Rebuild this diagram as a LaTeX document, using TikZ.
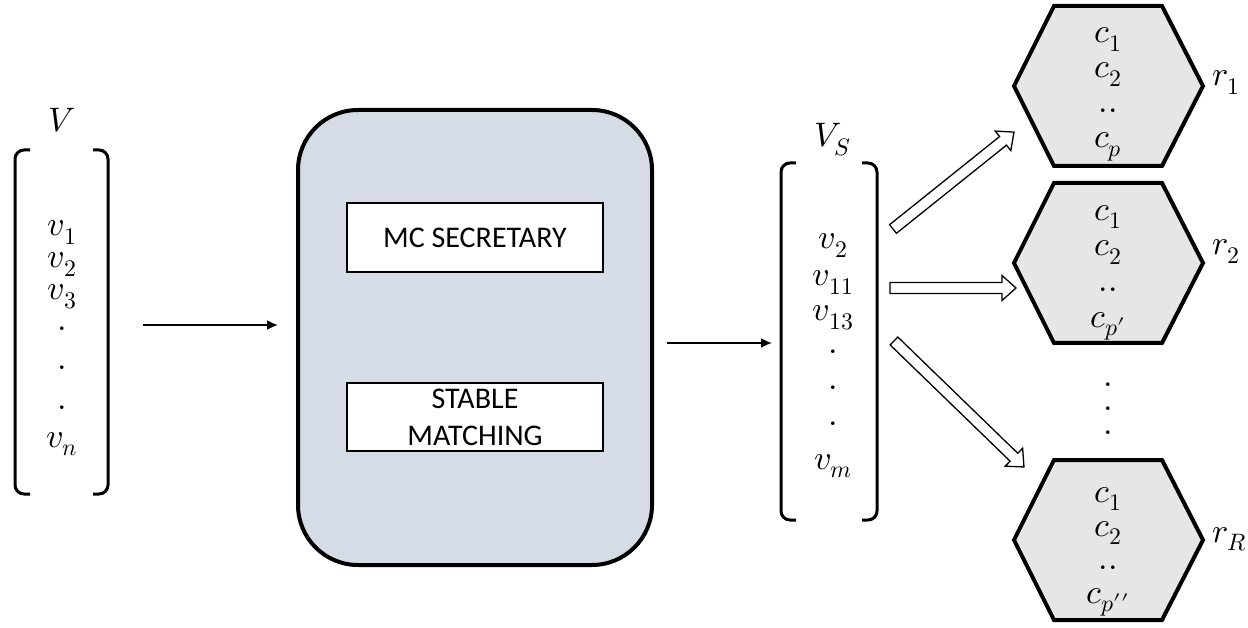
\documentclass[tikz,border=0pt]{standalone}
\usepackage{fontspec}
\usepackage{unicode-math}
\setmainfont{Carlito}
\setmathfont{Latin Modern Math}
\usetikzlibrary{arrows.meta,calc}
\definecolor{boxfill}{HTML}{D6DCE5}
\definecolor{hexfill}{HTML}{E7E6E6}
\begin{document}
\begin{tikzpicture}[x=1pt,y=-1pt,
  mth/.style={font=\fontsize{34}{40}\selectfont, inner sep=0pt, anchor=base},
  col/.style={inner sep=0pt, align=center, anchor=base},
  brk/.style={line width=3pt, rounded corners=9pt},
  hexa/.style={draw, line width=4pt, fill=hexfill, line join=miter},
  proc/.style={draw, line width=1.5pt, fill=white, font=\fontsize{30}{37}\selectfont, align=center, minimum width=256pt, inner sep=0pt},
  thinarrow/.style={line width=1.8pt, -{Latex[length=11pt,width=10pt]}},
  blk/.style={draw, line width=1.3pt, fill=white, line join=miter}]
\useasboundingbox (0,0) rectangle (1248,628);

% ---- input vector V
\node[mth] (Vlab) at (62,132) {$V$};
\draw[brk] (30,150) -- (15,150) -- (15,494) -- (30,494);
\draw[brk] (93,150) -- (108,150) -- (108,494) -- (93,494);
\node[mth] (v1) at (62,236) {$v_1$};
\node[mth] (v2) at (62,268) {$v_2$};
\node[mth] (v3) at (62,300) {$v_3$};
\node[mth] (vd1) at (62,331) {$.$};
\node[mth] (vd2) at (62,370) {$.$};
\node[mth] (vd3) at (62,409) {$.$};
\node[mth] (vn) at (62,447) {$v_n$};

% ---- algorithm block
\node[draw, line width=4pt, fill=boxfill, rounded corners=60pt,
      minimum width=354pt, minimum height=455pt] (alg) at (475,337.5) {};
\node[proc, minimum height=69pt] (mcs) at (475,237.5) {MC SECRETARY};
\node[proc, minimum height=68pt] (stm) at (475,417) {STABLE\\MATCHING};

\coordinate (a1s) at (143,325);
\coordinate (a1e) at (278,325);
\draw[thinarrow] (a1s) -- (a1e);
\coordinate (a2s) at (667,343);
\coordinate (a2e) at (772,343);
\draw[thinarrow] (a2s) -- (a2e);

% ---- selected vector V_S
\node[mth] (VSlab) at (833,147) {$V_S$};
\draw[brk] (796,163) -- (781,163) -- (781,520) -- (796,520);
\draw[brk] (862,163) -- (877,163) -- (877,520) -- (862,520);
\node[mth] (s1) at (833,249) {$v_2$};
\node[mth] (s2) at (833,286) {$v_{11}$};
\node[mth] (s3) at (833,321) {$v_{13}$};
\node[mth] (sd1) at (833,354) {$.$};
\node[mth] (sd2) at (833,389) {$.$};
\node[mth] (sd3) at (833,425) {$.$};
\node[mth] (sm) at (833,469) {$v_m$};

% ---- block arrows (tail coordinates, drawn along their direction)
\coordinate (t1) at (893,229);
\coordinate (t2) at (890,288);
\coordinate (t3) at (894,341);
\foreach \t/\ang/\len in {t1/38.7/155, t2/0/126, t3/-44.1/181} {
  \begin{scope}[shift={(\t)}, rotate=\ang]
    \draw[blk] (0,5.5) -- ({\len-14},5.5) -- ({\len-14},12.5) -- (\len,0)
      -- ({\len-14},-12.5) -- ({\len-14},-5.5) -- (0,-5.5) -- cycle;
  \end{scope}
}

% ---- hexagons (multi-line nodes anchored at the baseline of their last line)
\foreach \n/\cy in {1/86, 2/263, 3/540} {
  \draw[hexa] (1014,\cy) -- (1054,{\cy-80}) -- (1162,{\cy-80}) -- (1203,\cy)
              -- (1162,{\cy+80}) -- (1054,{\cy+80}) -- cycle;
}
\node[col, font=\fontsize{34}{35}\selectfont] (h1) at (1108,148)
  {$c_1$\\$c_2$\\$..$\\$c_p$};
\node[mth, anchor=base west] (r1) at (1212,86) {$r_1$};

\node[col, font=\fontsize{34}{35.5}\selectfont] (h2) at (1108,327)
  {$c_1$\\$c_2$\\$..$\\$c_{p\prime}$};
\node[mth, anchor=base west] (r2) at (1212,255) {$r_2$};

\node[col, font=\fontsize{34}{24}\selectfont] (hdots) at (1108,434)
  {$.$\\$.$\\$.$};

\node[col, font=\fontsize{34}{33.5}\selectfont] (h3) at (1108,603)
  {$c_1$\\$c_2$\\$..$\\$c_{p\prime\prime}$};
\node[mth, anchor=base west] (r3) at (1212,542) {$r_R$};
\end{tikzpicture}
\end{document}
